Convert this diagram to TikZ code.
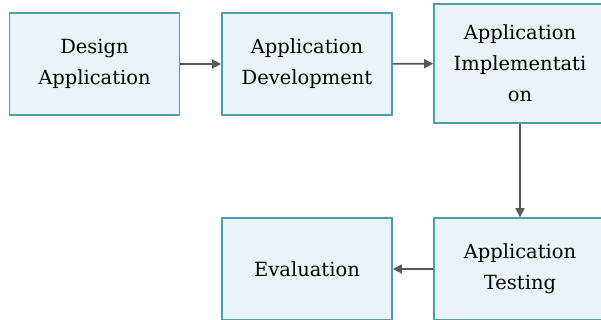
\documentclass[tikz,border=0pt]{standalone}
\usepackage{fontspec}
\setmainfont{DejaVu Serif}
\usepackage{xcolor}
\usetikzlibrary{arrows.meta}

\definecolor{stagefill}{HTML}{E8F4F7}
\definecolor{stageline}{HTML}{4F9BB0}
\definecolor{flowgray}{HTML}{595959}

\begin{document}
\begin{tikzpicture}[x=1pt, y=-1pt, stage/.style={rectangle, draw=stageline, line width=1.7pt, fill=stagefill, minimum width=170pt, minimum height=102pt, inner sep=0pt, align=center, font=\fontsize{19.5}{31}\selectfont}, flow/.style={-{Triangle[length=9pt,width=9pt]}, draw=flowgray, fill=flowgray, line width=1.6pt}]
\useasboundingbox (0,0) rectangle (601,320);
\node[stage] (design) at (94.5,64) {Design\\Application};
\node[stage] (develop) at (307,64) {Application\\Development};
\node[stage, minimum width=172pt, minimum height=119pt] (implement) at (520,63.5) {Application\\Implementati\\on};
\node[stage, minimum width=172pt] (testing) at (520,269) {Application\\Testing};
\node[stage] (eval) at (307,269) {Evaluation};
\path
(design) edge[flow] (develop)
(develop) edge[flow] (implement)
(implement) edge[flow] (testing)
(testing) edge[flow] (eval);
\end{tikzpicture}
\end{document}
